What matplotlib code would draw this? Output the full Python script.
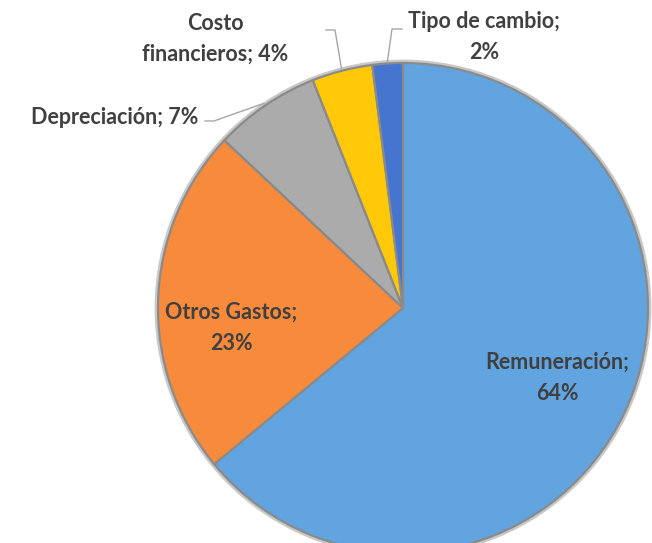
import numpy as np
from matplotlib import pyplot as plt

# Datos
categorias = ["Remuneración", "Otros Gastos", "Depreciación", "Costo\nfinancieros", "Tipo de cambio"]
porcentajes = [64, 23, 7, 4, 2]
colores = ["#62A4E0", "#F88A3B", "#ABABAB", "#FFC90A", "#4675CF"]

W, H = 652, 543


def px(x, y):
    # pixel coords (top-left origin) -> data coords
    return x, H - y


def main():
    plt.rcParams['font.family'] = ['Lato', 'DejaVu Sans']
    fig = plt.figure(figsize=(W / 100, H / 100), dpi=100)
    ax = fig.add_axes([0, 0, 1, 1])

    cx, cy = px(403, 308)
    r = 245
    # anillo exterior claro (borde biselado)
    ax.pie([1], colors=["none"], center=(cx, cy), radius=r + 2, frame=True,
           wedgeprops=dict(edgecolor="#c8c8c8", linewidth=2))
    wedges, _ = ax.pie(porcentajes, colors=colores, startangle=90, counterclock=False,
                       center=(cx, cy), radius=r, frame=True,
                       wedgeprops=dict(edgecolor="#8a8a8a", linewidth=1.6))
    ax.set_xlim(0, W)
    ax.set_ylim(0, H)
    ax.set_aspect('equal')
    ax.axis('off')

    txt = dict(fontsize=15.5, fontweight='bold', color='#404040', ha='center', va='center',
               linespacing=1.6)

    # etiquetas dentro
    ax.text(*px(557, 378), f"{categorias[0]};\n{porcentajes[0]}%", **txt)
    ax.text(*px(231, 328), f"{categorias[1]};\n{porcentajes[1]}%", **txt)

    # etiquetas fuera con guias
    ax.text(*px(115, 117), f"{categorias[2]}; {porcentajes[2]}%", **txt)
    ax.text(*px(215, 39), f"{categorias[3]}; {porcentajes[3]}%", **txt)
    ax.text(*px(484, 37), f"{categorias[4]};\n{porcentajes[4]}%", **txt)

    codos = [None, None, [(205, 121), (214, 121)], [(326, 30), (335, 30)], [(402, 29), (392, 29)]]
    for w, c in zip(wedges, codos):
        if c is None:
            continue
        ang = np.deg2rad((w.theta1 + w.theta2) / 2)
        ex, ey = cx + r * 1.01 * np.cos(ang), cy + r * 1.01 * np.sin(ang)
        xs = [px(*p)[0] for p in c] + [ex]
        ys = [px(*p)[1] for p in c] + [ey]
        ax.plot(xs, ys, color="#a6a6a6", lw=1)

    fig.savefig("out.png", dpi=100)


if __name__ == "__main__":
    main()
